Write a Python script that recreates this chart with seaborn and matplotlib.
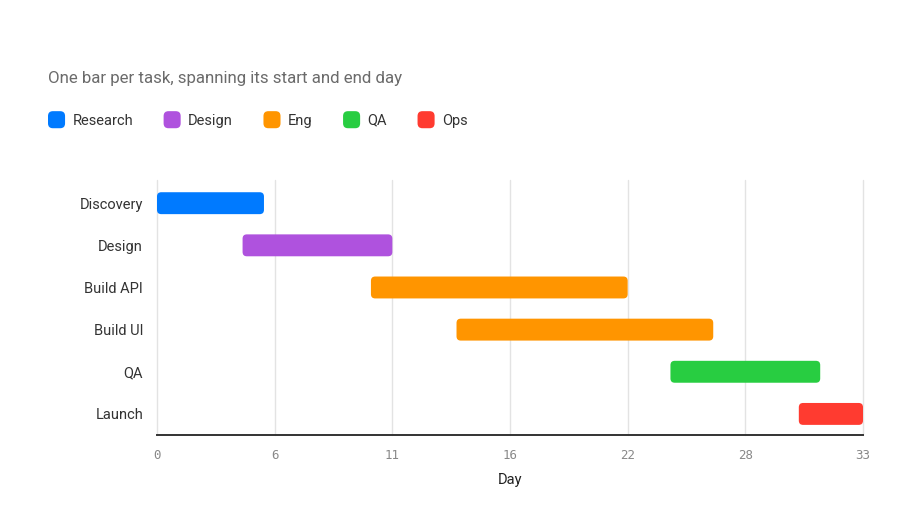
import numpy as np
import pandas as pd
import matplotlib
matplotlib.use('Agg')
import matplotlib.pyplot as plt
from matplotlib.patches import FancyBboxPatch, Patch
from matplotlib.legend_handler import HandlerPatch
import seaborn as sns

# task data
tasks = ["Discovery", "Design", "Build API", "Build UI", "QA", "Launch"]
start_day = [0, 4, 10, 14, 24, 30]
end_day = [5, 11, 22, 26, 31, 33]
team = ["Research", "Design", "Eng", "Eng", "QA", "Ops"]

teams = ["Research", "Design", "Eng", "QA", "Ops"]
team_colors = ["#007AFF", "#AF52DE", "#FF9500", "#28CD41", "#FF3B30"]

xticks = [0, 5.5, 11, 16.5, 22, 27.5, 33]
xtick_labels = ["0", "6", "11", "16", "22", "28", "33"]

df = pd.DataFrame({"task": tasks, "start": start_day, "end": end_day, "team": team})
df["duration"] = df["end"] - df["start"]

sns.set_style("white")
plt.rcParams['font.family'] = ['Roboto', 'DejaVu Sans']


class RoundHandler(HandlerPatch):
    # rounded square swatches for the legend
    def create_artists(self, legend, orig_handle, xdescent, ydescent,
                       width, height, fontsize, trans):
        side = max(width, height)
        y = -ydescent + (height - side) / 2
        p = FancyBboxPatch((-xdescent, y), side, side,
                           boxstyle="round,pad=0,rounding_size=3.5",
                           facecolor=orig_handle.get_facecolor(),
                           edgecolor="none", transform=trans)
        return [p]


fig = plt.figure(figsize=(9, 5.08), dpi=100)
ax = fig.add_axes([157 / 900, 1 - 435 / 508, 706 / 900, 255 / 508])

palette = dict(zip(teams, team_colors))
sns.barplot(data=df, x="duration", y="task", hue="team", palette=palette,
            hue_order=teams, order=tasks, dodge=False, width=0.52,
            saturation=1, legend=False, ax=ax, orient="h")

# shift each bar to start on its start day, then round the corners
bars = [p for p in ax.patches if p.get_width() > 0]
for p in bars:
    row = int(round(p.get_y() + p.get_height() / 2))
    x0 = df["start"][row]
    w = df["duration"][row]
    y0 = p.get_y()
    h = p.get_height()
    col = p.get_facecolor()
    p.remove()
    r = FancyBboxPatch((x0, y0), w, h,
                       boxstyle="round,pad=0,rounding_size=0.2",
                       mutation_aspect=21.39 / 42.2,
                       facecolor=col, edgecolor="none", zorder=3)
    ax.add_patch(r)

ax.set_xlim(0, 33)
ax.set_ylim(5.5, -0.55)
ax.set_xticks(xticks)
ax.set_xticklabels(xtick_labels, family="DejaVu Sans Mono", fontsize=9, color="#888888")
ax.tick_params(axis="x", length=0, pad=10)
ax.tick_params(axis="y", length=0, pad=10, labelsize=10.5, labelcolor="#333333")
ax.grid(axis="x", color="#e3e3e3", linewidth=1, zorder=0)
for gl in ax.get_xgridlines():
    gl.set_clip_on(False)
ax.set_axisbelow(True)
for s in ["top", "right", "left"]:
    ax.spines[s].set_visible(False)
ax.spines["bottom"].set_color("#333333")
ax.spines["bottom"].set_linewidth(1.4)
ax.spines["bottom"].set_zorder(4)
ax.set_ylabel("")
ax.set_xlabel("Day", fontsize=10.5, color="#222222", labelpad=8)

fig.text(48 / 900, 1 - 78 / 508, "One bar per task, spanning its start and end day",
         fontsize=12.2, color="#6b6b6b", va="center", ha="left")

handles = [Patch(facecolor=c, edgecolor="none") for c in team_colors]
leg = fig.legend(handles, teams, loc="center left", bbox_to_anchor=(48 / 900, 1 - 120 / 508),
                 ncol=5, frameon=False, fontsize=10.5, handlelength=1.17, handleheight=1.17,
                 handletextpad=0.5, columnspacing=2.1, borderpad=0, borderaxespad=0,
                 handler_map={Patch: RoundHandler()})
for t in leg.get_texts():
    t.set_color("#333333")

fig.savefig("out.png", dpi=100)
